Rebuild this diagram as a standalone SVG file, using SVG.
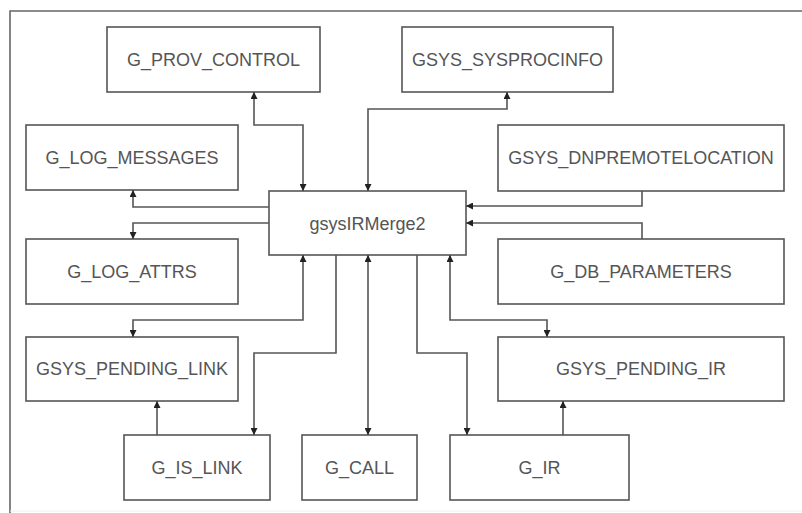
<svg xmlns="http://www.w3.org/2000/svg" width="802" height="513" viewBox="0 0 802 513">
<defs>
<marker id="ah" viewBox="0 0 10 10" refX="10" refY="5" markerWidth="7" markerHeight="7" markerUnits="userSpaceOnUse" orient="auto-start-reverse">
<path d="M0,0 L10,5 L0,10 Z" fill="#222"/>
</marker>
<style>
.box{fill:#fff;stroke:#555;stroke-width:1.6}
.lbl{font-family:"Liberation Sans",Arial,sans-serif;font-size:18px;fill:#555;text-anchor:middle}
.c{fill:none;stroke:#555;stroke-width:1.6}
.frame{fill:none;stroke:#666;stroke-width:1.6}
</style>
</defs>
<rect width="802" height="513" fill="#fff"/>
<path class="frame" d="M10,513 V11 H802"/>
<path d="M10,511 H802" stroke="#eee" stroke-width="1" fill="none"/>

<g id="G_PROV_CONTROL"><rect class="box" x="107" y="27" width="213" height="65"/><text class="lbl" x="213.5" y="66">G_PROV_CONTROL</text></g>
<g id="GSYS_SYSPROCINFO"><rect class="box" x="402" y="27" width="211" height="65"/><text class="lbl" x="507.5" y="66">GSYS_SYSPROCINFO</text></g>
<g id="G_LOG_MESSAGES"><rect class="box" x="26" y="125" width="212" height="65"/><text class="lbl" x="132" y="164">G_LOG_MESSAGES</text></g>
<g id="GSYS_DNPREMOTELOCATION"><rect class="box" x="498" y="125" width="286" height="66"/><text class="lbl" x="641" y="164">GSYS_DNPREMOTELOCATION</text></g>
<g id="gsysIRMerge2"><rect class="box" x="269" y="191" width="197" height="64"/><text class="lbl" x="367.5" y="230">gsysIRMerge2</text></g>
<g id="G_LOG_ATTRS"><rect class="box" x="26" y="239" width="212" height="65"/><text class="lbl" x="132" y="278">G_LOG_ATTRS</text></g>
<g id="G_DB_PARAMETERS"><rect class="box" x="498" y="239" width="286" height="65"/><text class="lbl" x="641" y="278">G_DB_PARAMETERS</text></g>
<g id="GSYS_PENDING_LINK"><rect class="box" x="26" y="337" width="212" height="64"/><text class="lbl" x="132" y="375">GSYS_PENDING_LINK</text></g>
<g id="GSYS_PENDING_IR"><rect class="box" x="498" y="337" width="286" height="64"/><text class="lbl" x="641" y="375">GSYS_PENDING_IR</text></g>
<g id="G_IS_LINK"><rect class="box" x="124" y="435" width="146" height="65"/><text class="lbl" x="197" y="474">G_IS_LINK</text></g>
<g id="G_CALL"><rect class="box" x="302" y="435" width="115" height="65"/><text class="lbl" x="359.5" y="474">G_CALL</text></g>
<g id="G_IR"><rect class="box" x="450" y="435" width="179" height="65"/><text class="lbl" x="539.5" y="474">G_IR</text></g>

<g id="connectors">
<path class="c" d="M254,92 V125 H303 V191" marker-start="url(#ah)" marker-end="url(#ah)"/>
<path class="c" d="M368,191 V109 H507 V92" marker-start="url(#ah)" marker-end="url(#ah)"/>
<path class="c" d="M269,207 H133 V190" marker-end="url(#ah)"/>
<path class="c" d="M269,223 H133 V239" marker-end="url(#ah)"/>
<path class="c" d="M642,191 V206 H466" marker-end="url(#ah)"/>
<path class="c" d="M642,239 V223 H466" marker-end="url(#ah)"/>
<path class="c" d="M303,255 V320 H133 V337" marker-start="url(#ah)" marker-end="url(#ah)"/>
<path class="c" d="M450,255 V320 H547 V337" marker-start="url(#ah)" marker-end="url(#ah)"/>
<path class="c" d="M336,255 V353 H254 V435" marker-end="url(#ah)"/>
<path class="c" d="M368,255 V435" marker-start="url(#ah)" marker-end="url(#ah)"/>
<path class="c" d="M417,255 V353 H467 V435" marker-end="url(#ah)"/>
<path class="c" d="M157,435 V401" marker-end="url(#ah)"/>
<path class="c" d="M563,435 V401" marker-end="url(#ah)"/>
</g>
</svg>
